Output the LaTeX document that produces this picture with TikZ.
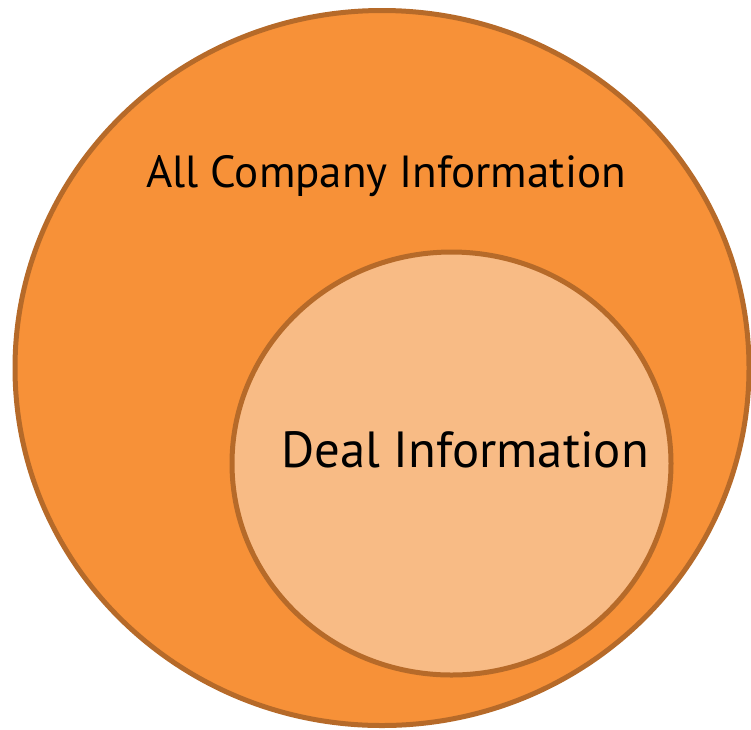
\documentclass[tikz,border=0pt]{standalone}
\usepackage{fontspec}
\setmainfont{PT Sans}
\definecolor{outerfill}{HTML}{F79138}
\definecolor{innerfill}{HTML}{F8BB85}
\definecolor{rimcolor}{HTML}{B66A29}
\begin{document}
\begin{tikzpicture}[x=1pt,y=-1pt,
  setshape/.style={draw=rimcolor, line width=5pt},
  setlabel/.style={anchor=base west, inner sep=0pt, text=black}]
\useasboundingbox (0,0) rectangle (751,729);
% outer set: all company information
\path[setshape, fill=outerfill] (382,368) ellipse [x radius=367, y radius=357.5];
% inner set: deal information
\path[setshape, fill=innerfill] (451.5,463.5) ellipse [x radius=219.5, y radius=211.5];
\node[setlabel, font=\fontsize{45}{48}\selectfont] (all) at (146,187) {All Company Information};
\node[setlabel, font=\fontsize{50.8}{54}\selectfont] (deal) at (281,467) {Deal Information};
\end{tikzpicture}
\end{document}
